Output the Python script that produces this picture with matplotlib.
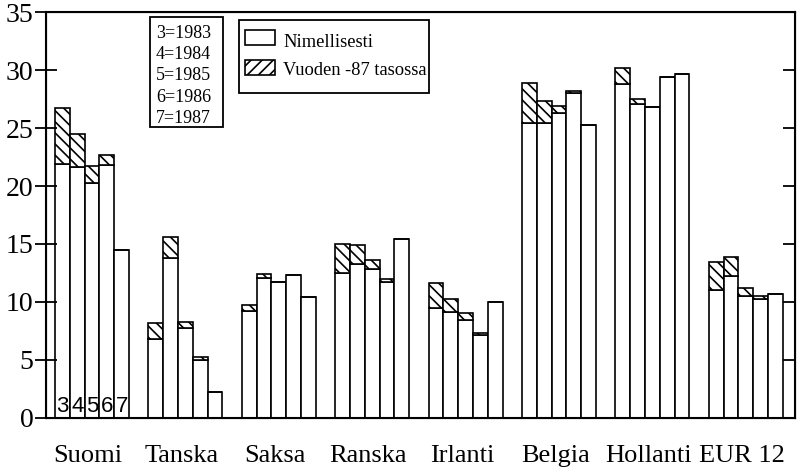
import matplotlib.pyplot as plt
from matplotlib.patches import Rectangle
import numpy as np

plt.rcParams['font.family'] = 'Liberation Serif'
plt.rcParams['hatch.linewidth'] = 1.2

countries = ['Suomi', 'Tanska', 'Saksa', 'Ranska', 'Irlanti', 'Belgia', 'Hollanti', 'EUR 12']
years = [1983, 1984, 1985, 1986, 1987]
year_codes = ['3', '4', '5', '6', '7']
legend_labels = ['Nimellisesti', 'Vuoden -87 tasossa']

# nominal values, one row per country, columns 1983..1987
nominal = [
    [21.9, 21.6, 20.3, 21.8, 14.5],
    [6.8, 13.8, 7.7, 5.0, 2.2],
    [9.2, 12.1, 11.7, 12.3, 10.4],
    [12.5, 13.3, 12.8, 11.7, 15.4],
    [9.5, 9.1, 8.4, 7.1, 10.0],
    [25.4, 25.4, 26.3, 28.0, 25.3],
    [28.8, 27.1, 26.8, 29.4, 29.7],
    [11.0, 12.2, 10.5, 10.25, 10.7],
]
# values at 1987 level
level_87 = [
    [26.7, 24.5, 21.7, 22.7, 14.5],
    [8.2, 15.6, 8.3, 5.2, 2.2],
    [9.7, 12.4, 11.7, 12.3, 10.4],
    [15.0, 14.9, 13.6, 12.0, 15.4],
    [11.6, 10.25, 9.0, 7.3, 10.0],
    [28.9, 27.3, 26.9, 28.2, 25.3],
    [30.2, 27.5, 26.8, 29.4, 29.7],
    [13.4, 13.85, 11.2, 10.5, 10.7],
]

nom = np.array(nominal)
real = np.array(level_87)
w = 0.1585
centers = np.arange(len(countries))

fig = plt.figure(figsize=(8, 4.71), dpi=100)
ax = fig.add_axes([0.0575, 0.1132, 0.93625, 0.8607])

for j in range(len(years)):
    x = centers + (j - 2) * w
    ax.bar(x, nom[:, j], width=w, color='white', edgecolor='black', linewidth=1.2)
    ax.bar(x, real[:, j] - nom[:, j], bottom=nom[:, j], width=w, color='white',
           edgecolor='black', linewidth=1.2, hatch='\\\\\\')
    ax.text(centers[0] + (j - 2) * w, 0.5, year_codes[j], ha='center', va='baseline',
            family='Liberation Sans', fontsize=16)

ax.set_xlim(-0.4925, 7.527)
ax.set_ylim(0, 35)
ax.set_yticks(range(0, 36, 5))
ax.set_xticks(centers - 0.04)
ax.set_xticklabels(countries, fontsize=19)
ax.tick_params(axis='x', length=0, pad=20)
ax.tick_params(axis='y', direction='inout', length=16, width=1.3, labelsize=20, pad=1)
for s in ax.spines.values():
    s.set_linewidth(1.5)

ax2 = ax.twinx()
ax2.set_ylim(0, 35)
ax2.set_yticks(range(0, 36, 5))
ax2.tick_params(axis='y', direction='in', length=9, width=1.3, labelright=False)


def px(x0, y0, wd, ht):
    # pixel box (top-left origin) -> figure fraction rectangle args
    return (x0 / 800, 1 - (y0 + ht) / 471), wd / 800, ht / 471


# year key box
xy, bw, bh = px(150, 17, 73, 110)
fig.patches.append(Rectangle(xy, bw, bh, transform=fig.transFigure, fill=False,
                             edgecolor='black', linewidth=1.3))
for k, (c, y) in enumerate(zip(year_codes, years)):
    fig.text(156 / 800, 1 - (33.5 + k * 21.2) / 471, f'{c}={y}', fontsize=13,
             va='center', ha='left')

# legend box
xy, bw, bh = px(239, 20, 190, 73)
fig.patches.append(Rectangle(xy, bw, bh, transform=fig.transFigure, fill=False,
                             edgecolor='black', linewidth=1.3))
for k, (lab, hatch) in enumerate(zip(legend_labels, [None, '///'])):
    xy, bw, bh = px(245, 30 + k * 30, 30, 15)
    fig.patches.append(Rectangle(xy, bw, bh, transform=fig.transFigure, facecolor='white',
                                 edgecolor='black', linewidth=1.2, hatch=hatch))
    fig.text(283 / 800, 1 - (47 + k * 28) / 471, lab, fontsize=13.3,
             va='baseline', ha='left')

fig.savefig('out.png', dpi=100)
